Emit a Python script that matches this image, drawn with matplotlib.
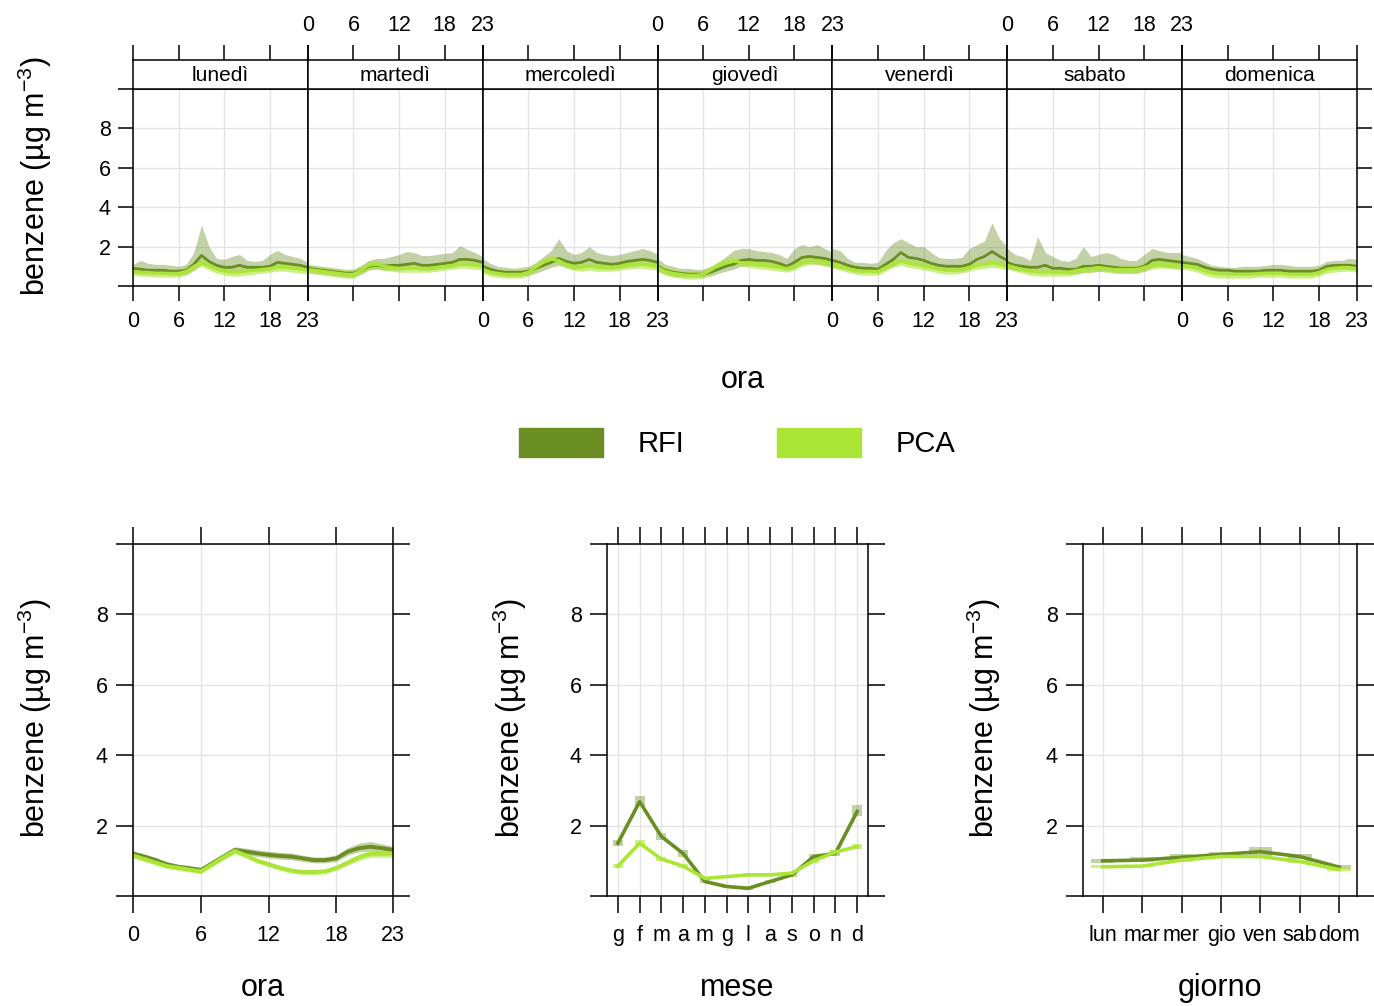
import numpy as np
import matplotlib.pyplot as plt
from matplotlib.patches import Rectangle

plt.rcParams['font.family'] = ['Liberation Sans', 'DejaVu Sans']
plt.rcParams['mathtext.fontset'] = 'custom'
plt.rcParams['mathtext.rm'] = 'Liberation Sans'
plt.rcParams['mathtext.it'] = 'Liberation Sans:italic'

# ---- dati ----
giorni = ['lunedì', 'martedì', 'mercoledì', 'giovedì', 'venerdì', 'sabato', 'domenica']
ore = list(range(24))
ore_ticks = [0, 6, 12, 18, 23]
mesi = ['g', 'f', 'm', 'a', 'm', 'g', 'l', 'a', 's', 'o', 'n', 'd']
giorni_brevi = ['lun', 'mar', 'mer', 'gio', 'ven', 'sab', 'dom']

# giorno x ora (7 x 24 valori, un giorno per riga)
rfi_mean = [
    0.90, 0.85, 0.80, 0.80, 0.80, 0.75, 0.75, 0.80, 1.10, 1.55, 1.25, 1.05, 0.95, 0.95, 1.05, 0.95, 0.95, 0.95, 1.00, 1.20, 1.15, 1.10, 1.05, 0.95,
    0.90, 0.85, 0.80, 0.75, 0.70, 0.65, 0.65, 0.80, 1.00, 1.05, 1.00, 1.05, 1.05, 1.10, 1.15, 1.05, 1.05, 1.10, 1.15, 1.20, 1.35, 1.35, 1.30, 1.20,
    1.00, 0.85, 0.75, 0.70, 0.70, 0.70, 0.75, 0.90, 1.05, 1.20, 1.40, 1.25, 1.15, 1.20, 1.35, 1.20, 1.15, 1.10, 1.15, 1.25, 1.30, 1.35, 1.30, 1.20,
    1.00, 0.80, 0.70, 0.65, 0.60, 0.60, 0.60, 0.70, 0.85, 1.00, 1.10, 1.30, 1.35, 1.30, 1.30, 1.25, 1.15, 1.00, 1.20, 1.45, 1.50, 1.45, 1.40, 1.30,
    1.30, 1.20, 1.05, 0.95, 0.90, 0.90, 0.85, 1.10, 1.35, 1.70, 1.45, 1.40, 1.30, 1.15, 1.05, 1.00, 1.00, 1.00, 1.10, 1.35, 1.50, 1.75, 1.50, 1.30,
    1.20, 1.05, 1.00, 0.95, 0.95, 1.05, 0.90, 0.90, 0.85, 0.85, 1.00, 1.00, 1.05, 1.00, 0.95, 0.90, 0.90, 0.90, 1.00, 1.30, 1.35, 1.30, 1.25, 1.20,
    1.20, 1.15, 1.10, 0.95, 0.85, 0.80, 0.80, 0.75, 0.75, 0.75, 0.75, 0.80, 0.80, 0.80, 0.75, 0.75, 0.75, 0.75, 0.80, 1.00, 1.05, 1.05, 1.05, 1.00,
]
rfi_lo = [
    0.65, 0.60, 0.60, 0.60, 0.60, 0.55, 0.55, 0.60, 0.80, 1.10, 0.95, 0.80, 0.75, 0.75, 0.80, 0.75, 0.75, 0.75, 0.80, 0.95, 0.90, 0.85, 0.80, 0.75,
    0.70, 0.65, 0.60, 0.55, 0.50, 0.45, 0.45, 0.60, 0.80, 0.85, 0.80, 0.80, 0.80, 0.85, 0.90, 0.80, 0.80, 0.85, 0.90, 0.95, 1.05, 1.05, 1.00, 0.95,
    0.75, 0.60, 0.55, 0.50, 0.50, 0.50, 0.55, 0.65, 0.80, 0.95, 1.05, 0.95, 0.85, 0.90, 1.00, 0.90, 0.85, 0.85, 0.90, 0.95, 1.00, 1.05, 1.00, 0.95,
    0.75, 0.60, 0.50, 0.45, 0.45, 0.45, 0.45, 0.50, 0.65, 0.75, 0.85, 1.00, 1.05, 1.00, 1.00, 0.95, 0.90, 0.80, 0.90, 1.10, 1.15, 1.10, 1.05, 1.00,
    0.95, 0.90, 0.80, 0.70, 0.70, 0.70, 0.65, 0.85, 1.00, 1.25, 1.10, 1.05, 1.00, 0.90, 0.80, 0.75, 0.75, 0.75, 0.85, 1.00, 1.10, 1.25, 1.10, 1.00,
    0.90, 0.80, 0.75, 0.70, 0.70, 0.75, 0.65, 0.65, 0.60, 0.60, 0.70, 0.70, 0.75, 0.75, 0.70, 0.65, 0.65, 0.65, 0.75, 0.95, 1.00, 0.95, 0.90, 0.90,
    0.95, 0.90, 0.85, 0.75, 0.65, 0.60, 0.60, 0.55, 0.55, 0.55, 0.55, 0.60, 0.60, 0.60, 0.55, 0.55, 0.55, 0.55, 0.60, 0.80, 0.85, 0.85, 0.85, 0.80,
]
rfi_hi = [
    1.10, 1.30, 1.15, 1.10, 1.10, 1.05, 1.00, 1.10, 1.70, 3.10, 2.00, 1.40, 1.35, 1.50, 1.60, 1.30, 1.25, 1.30, 1.60, 1.80, 1.60, 1.50, 1.40, 1.20,
    1.10, 1.05, 1.00, 0.95, 0.90, 0.85, 0.85, 1.05, 1.30, 1.40, 1.40, 1.50, 1.60, 1.75, 1.70, 1.55, 1.55, 1.60, 1.65, 1.70, 2.05, 1.85, 1.70, 1.50,
    1.40, 1.15, 1.00, 0.95, 0.90, 0.95, 1.00, 1.20, 1.50, 1.80, 2.40, 1.80, 1.60, 1.70, 2.00, 1.70, 1.60, 1.55, 1.60, 1.70, 1.80, 1.90, 1.80, 1.60,
    1.40, 1.10, 1.00, 0.90, 0.90, 0.85, 0.85, 1.00, 1.20, 1.50, 1.80, 1.90, 1.90, 1.80, 1.75, 1.70, 1.60, 1.40, 1.90, 2.10, 2.00, 2.10, 1.90, 1.70,
    1.90, 1.80, 1.40, 1.20, 1.20, 1.15, 1.20, 1.80, 2.20, 2.40, 2.20, 2.00, 2.00, 1.70, 1.45, 1.40, 1.40, 1.45, 1.90, 2.10, 2.30, 3.20, 2.40, 2.00,
    1.90, 1.60, 1.50, 1.30, 2.50, 1.70, 1.50, 1.30, 1.25, 1.40, 2.00, 1.50, 1.60, 1.70, 1.60, 1.40, 1.30, 1.30, 1.60, 1.90, 1.80, 1.70, 1.70, 1.70,
    1.60, 1.50, 1.40, 1.20, 1.05, 1.00, 0.95, 0.95, 1.00, 1.00, 1.00, 1.05, 1.10, 1.10, 1.05, 1.00, 1.00, 1.00, 1.05, 1.25, 1.30, 1.30, 1.40, 1.35,
]
pca_mean = [
    0.75, 0.70, 0.70, 0.65, 0.65, 0.65, 0.65, 0.75, 1.00, 1.20, 1.00, 0.85, 0.75, 0.70, 0.70, 0.75, 0.80, 0.85, 0.90, 0.95, 0.95, 0.90, 0.85, 0.80,
    0.85, 0.80, 0.75, 0.70, 0.65, 0.60, 0.60, 0.80, 1.05, 1.10, 1.00, 0.95, 0.90, 0.90, 0.90, 0.90, 0.90, 0.95, 1.00, 1.05, 1.10, 1.10, 1.05, 1.00,
    0.85, 0.70, 0.65, 0.60, 0.60, 0.60, 0.70, 0.95, 1.20, 1.35, 1.30, 1.10, 1.00, 0.95, 1.00, 0.95, 0.95, 0.95, 1.00, 1.05, 1.10, 1.10, 1.05, 1.00,
    0.95, 0.75, 0.65, 0.60, 0.55, 0.55, 0.60, 0.80, 1.05, 1.20, 1.25, 1.20, 1.15, 1.10, 1.05, 1.00, 0.95, 0.90, 1.00, 1.20, 1.30, 1.30, 1.20, 1.10,
    1.10, 1.00, 0.90, 0.80, 0.75, 0.75, 0.75, 0.95, 1.15, 1.25, 1.15, 1.10, 1.00, 0.95, 0.85, 0.80, 0.80, 0.85, 0.95, 1.05, 1.10, 1.15, 1.10, 1.00,
    1.05, 0.95, 0.85, 0.75, 0.70, 0.70, 0.70, 0.70, 0.70, 0.80, 0.85, 0.90, 0.95, 0.90, 0.85, 0.85, 0.85, 0.85, 0.95, 1.05, 1.10, 1.10, 1.05, 1.00,
    1.05, 1.00, 0.90, 0.75, 0.65, 0.60, 0.60, 0.60, 0.60, 0.60, 0.65, 0.65, 0.65, 0.65, 0.60, 0.60, 0.60, 0.60, 0.70, 0.85, 0.90, 0.95, 0.95, 0.90,
]
pca_lo = [
    0.55, 0.50, 0.50, 0.45, 0.45, 0.45, 0.45, 0.55, 0.80, 1.00, 0.80, 0.65, 0.55, 0.50, 0.50, 0.55, 0.60, 0.65, 0.70, 0.75, 0.75, 0.70, 0.65, 0.60,
    0.65, 0.60, 0.55, 0.50, 0.45, 0.40, 0.40, 0.60, 0.85, 0.90, 0.80, 0.75, 0.70, 0.70, 0.70, 0.70, 0.70, 0.75, 0.80, 0.85, 0.90, 0.90, 0.85, 0.80,
    0.65, 0.50, 0.45, 0.40, 0.40, 0.40, 0.50, 0.75, 1.00, 1.15, 1.10, 0.90, 0.80, 0.75, 0.80, 0.75, 0.75, 0.75, 0.80, 0.85, 0.90, 0.90, 0.85, 0.80,
    0.75, 0.55, 0.45, 0.40, 0.35, 0.35, 0.40, 0.60, 0.85, 1.00, 1.05, 1.00, 0.95, 0.90, 0.85, 0.80, 0.75, 0.70, 0.80, 1.00, 1.10, 1.10, 1.00, 0.90,
    0.90, 0.80, 0.70, 0.60, 0.55, 0.55, 0.55, 0.75, 0.95, 1.05, 0.95, 0.90, 0.80, 0.75, 0.65, 0.60, 0.60, 0.65, 0.75, 0.85, 0.90, 0.95, 0.90, 0.80,
    0.85, 0.75, 0.65, 0.55, 0.50, 0.50, 0.50, 0.50, 0.50, 0.60, 0.65, 0.70, 0.75, 0.70, 0.65, 0.65, 0.65, 0.65, 0.75, 0.85, 0.90, 0.90, 0.85, 0.80,
    0.85, 0.80, 0.70, 0.55, 0.45, 0.40, 0.40, 0.40, 0.40, 0.40, 0.45, 0.45, 0.45, 0.45, 0.40, 0.40, 0.40, 0.40, 0.50, 0.65, 0.70, 0.75, 0.75, 0.70,
]
pca_hi = [
    0.95, 0.90, 0.90, 0.85, 0.85, 0.85, 0.85, 0.95, 1.20, 1.40, 1.20, 1.05, 0.95, 0.90, 0.90, 0.95, 1.00, 1.05, 1.10, 1.15, 1.15, 1.10, 1.05, 1.00,
    1.05, 1.00, 0.95, 0.90, 0.85, 0.80, 0.80, 1.00, 1.25, 1.30, 1.20, 1.15, 1.10, 1.10, 1.10, 1.10, 1.10, 1.15, 1.20, 1.25, 1.30, 1.30, 1.25, 1.20,
    1.05, 0.90, 0.85, 0.80, 0.80, 0.80, 0.90, 1.15, 1.40, 1.55, 1.50, 1.30, 1.20, 1.15, 1.20, 1.15, 1.15, 1.15, 1.20, 1.25, 1.30, 1.30, 1.25, 1.20,
    1.15, 0.95, 0.85, 0.80, 0.75, 0.75, 0.80, 1.00, 1.25, 1.40, 1.45, 1.40, 1.35, 1.30, 1.25, 1.20, 1.15, 1.10, 1.20, 1.40, 1.50, 1.50, 1.40, 1.30,
    1.30, 1.20, 1.10, 1.00, 0.95, 0.95, 0.95, 1.15, 1.35, 1.45, 1.35, 1.30, 1.20, 1.15, 1.05, 1.00, 1.00, 1.05, 1.15, 1.25, 1.30, 1.35, 1.30, 1.20,
    1.25, 1.15, 1.05, 0.95, 0.90, 0.90, 0.90, 0.90, 0.90, 1.00, 1.05, 1.10, 1.15, 1.10, 1.05, 1.05, 1.05, 1.05, 1.15, 1.25, 1.30, 1.30, 1.25, 1.20,
    1.25, 1.20, 1.10, 0.95, 0.85, 0.80, 0.80, 0.80, 0.80, 0.80, 0.85, 0.85, 0.85, 0.85, 0.80, 0.80, 0.80, 0.80, 0.90, 1.05, 1.10, 1.15, 1.15, 1.10,
]

# profilo orario medio
rfi_ora = [1.20, 1.12, 1.02, 0.90, 0.83, 0.79, 0.74, 0.93, 1.12, 1.31, 1.26, 1.21, 1.17, 1.14, 1.12, 1.07, 1.02, 1.02, 1.07, 1.26, 1.36, 1.40, 1.36, 1.31]
rfi_ora_lo = [1.12, 1.04, 0.95, 0.83, 0.76, 0.72, 0.67, 0.86, 1.04, 1.23, 1.17, 1.12, 1.08, 1.05, 1.03, 0.98, 0.94, 0.94, 0.98, 1.16, 1.25, 1.28, 1.25, 1.21]
rfi_ora_hi = [1.29, 1.20, 1.09, 0.97, 0.90, 0.86, 0.81, 1.00, 1.20, 1.40, 1.36, 1.31, 1.27, 1.24, 1.22, 1.16, 1.11, 1.11, 1.17, 1.37, 1.50, 1.55, 1.48, 1.42]
pca_ora = [1.15, 1.05, 0.95, 0.85, 0.80, 0.75, 0.70, 0.90, 1.10, 1.28, 1.15, 1.00, 0.90, 0.80, 0.72, 0.68, 0.68, 0.70, 0.80, 0.95, 1.10, 1.20, 1.20, 1.20]
pca_ora_lo = [1.08, 0.98, 0.88, 0.78, 0.73, 0.68, 0.63, 0.83, 1.03, 1.20, 1.08, 0.93, 0.83, 0.73, 0.65, 0.61, 0.61, 0.63, 0.73, 0.87, 1.01, 1.10, 1.10, 1.10]
pca_ora_hi = [1.22, 1.12, 1.02, 0.92, 0.87, 0.82, 0.77, 0.97, 1.17, 1.36, 1.22, 1.07, 0.97, 0.87, 0.79, 0.75, 0.75, 0.77, 0.87, 1.03, 1.19, 1.30, 1.30, 1.30]

# profilo mensile
rfi_mese = [1.50, 2.68, 1.69, 1.21, 0.41, 0.27, 0.22, 0.41, 0.60, 1.12, 1.21, 2.40]
rfi_mese_lo = [1.42, 2.55, 1.60, 1.12, 0.36, 0.23, 0.18, 0.37, 0.55, 1.04, 1.13, 2.28]
rfi_mese_hi = [1.60, 2.85, 1.80, 1.32, 0.47, 0.31, 0.26, 0.46, 0.66, 1.20, 1.30, 2.58]
pca_mese = [0.85, 1.50, 1.05, 0.85, 0.50, 0.55, 0.60, 0.60, 0.65, 1.00, 1.25, 1.40]
pca_mese_lo = [0.80, 1.42, 1.00, 0.80, 0.46, 0.51, 0.56, 0.56, 0.61, 0.95, 1.19, 1.33]
pca_mese_hi = [0.90, 1.58, 1.10, 0.90, 0.54, 0.59, 0.64, 0.64, 0.69, 1.05, 1.31, 1.47]

# profilo settimanale
rfi_giorno = [1.00, 1.02, 1.10, 1.18, 1.26, 1.12, 0.82]
rfi_giorno_lo = [0.95, 0.96, 1.04, 1.12, 1.15, 1.05, 0.76]
rfi_giorno_hi = [1.06, 1.10, 1.18, 1.26, 1.40, 1.20, 0.88]
pca_giorno = [0.83, 0.85, 1.02, 1.12, 1.12, 0.98, 0.75]
pca_giorno_lo = [0.79, 0.81, 0.98, 1.08, 1.07, 0.93, 0.71]
pca_giorno_hi = [0.87, 0.89, 1.06, 1.16, 1.17, 1.03, 0.79]

RFI = '#6B8E23'
PCA = '#ABE636'
GRID = '#E4E4E4'
ylab = 'benzene (µg m$^{-3}$)'
y_ticks = [0, 2, 4, 6, 8, 10]
y_labels = ['', '2', '4', '6', '8', '']
TS = 15.5   # tick labels
LS = 22     # titoli assi

W, H = 1374, 1006
fig = plt.figure(figsize=(W / 100, H / 100), dpi=100)


def px(x0, y0, x1, y1):
    return [x0 / W, 1 - y1 / H, (x1 - x0) / W, (y1 - y0) / H]


def stile(ax):
    for s in ax.spines.values():
        s.set_linewidth(1.1)
    ax.grid(color=GRID, lw=1)
    ax.set_axisbelow(True)


# ---- pannello superiore: giorno x ora ----
bordi = np.linspace(133, 1357, 8)
for i, g in enumerate(giorni):
    sl = slice(24 * i, 24 * i + 24)
    ax = fig.add_axes(px(bordi[i], 89, bordi[i + 1], 286))
    ax.fill_between(ore, rfi_lo[sl], rfi_hi[sl], color=RFI, alpha=0.4, lw=0)
    ax.plot(ore, rfi_mean[sl], color=RFI, lw=2.0)
    ax.fill_between(ore, pca_lo[sl], pca_hi[sl], color=PCA, alpha=0.6, lw=0)
    ax.plot(ore, pca_mean[sl], color=PCA, lw=2.0)
    ax.set_xlim(0, 23)
    ax.set_ylim(0, 10)
    ax.set_xticks(ore_ticks)
    ax.set_yticks(y_ticks)
    ax.set_yticklabels(y_labels)
    stile(ax)
    ax.tick_params(axis='x', direction='out', length=11, width=1.1, labelsize=TS,
                   labelbottom=(i % 2 == 0), pad=7)
    ax.tick_params(axis='y', direction='out', length=11, width=1.1, labelsize=TS,
                   left=(i == 0), labelleft=(i == 0), right=(i == 6), labelright=False, pad=5)

    st = fig.add_axes(px(bordi[i], 60, bordi[i + 1], 89))
    st.set_xlim(0, 23)
    st.set_xticks(ore_ticks)
    st.set_yticks([])
    st.xaxis.tick_top()
    st.tick_params(axis='x', direction='out', length=11, width=1.1, labelsize=TS,
                   labeltop=(i % 2 == 1), pad=6)
    for s in st.spines.values():
        s.set_linewidth(1.1)
    st.text(0.5, 0.45, g, transform=st.transAxes, ha='center', va='center', fontsize=15)

fig.text(35 / W, 1 - 176 / H, ylab, rotation=90, ha='center', va='center', fontsize=LS)
fig.text(743 / W, 1 - 380 / H, 'ora', ha='center', va='center', fontsize=LS)

# legenda
for x0, col, nome in [(519, RFI, 'RFI'), (777, PCA, 'PCA')]:
    fig.patches.append(Rectangle((x0 / W, 1 - 457 / H), 84 / W, 29 / H,
                                 transform=fig.transFigure, color=col))
    fig.text((x0 + 119) / W, 1 - 444 / H, nome, ha='left', va='center', fontsize=21)

# ---- pannelli inferiori ----
# ora
ax1 = fig.add_axes(px(133, 544, 393, 896))
ax1.fill_between(ore, rfi_ora_lo, rfi_ora_hi, color=RFI, alpha=0.4, lw=0)
ax1.plot(ore, rfi_ora, color=RFI, lw=2.8)
ax1.fill_between(ore, pca_ora_lo, pca_ora_hi, color=PCA, alpha=0.6, lw=0)
ax1.plot(ore, pca_ora, color=PCA, lw=2.8)
ax1.set_xlim(0, 23)
ax1.set_xticks(ore_ticks)

# mese
ax2 = fig.add_axes(px(607, 544, 868, 896))
xm = np.arange(1, 13)
ax2.bar(xm, np.subtract(rfi_mese_hi, rfi_mese_lo), bottom=rfi_mese_lo, width=0.45,
        color=RFI, alpha=0.4, lw=0)
ax2.plot(xm, rfi_mese, color=RFI, lw=2.6)
ax2.bar(xm, np.subtract(pca_mese_hi, pca_mese_lo), bottom=pca_mese_lo, width=0.45,
        color=PCA, alpha=0.6, lw=0)
ax2.plot(xm, pca_mese, color=PCA, lw=2.6)
ax2.set_xlim(0.5, 12.5)
ax2.set_xticks(xm)
ax2.set_xticklabels(mesi)

# giorno
ax3 = fig.add_axes(px(1083, 544, 1357, 896))
xg = np.arange(1, 8)
ax3.bar(xg, np.subtract(rfi_giorno_hi, rfi_giorno_lo), bottom=rfi_giorno_lo, width=0.6,
        color=RFI, alpha=0.4, lw=0)
ax3.plot(xg, rfi_giorno, color=RFI, lw=2.6)
ax3.bar(xg, np.subtract(pca_giorno_hi, pca_giorno_lo), bottom=pca_giorno_lo, width=0.6,
        color=PCA, alpha=0.6, lw=0)
ax3.plot(xg, pca_giorno, color=PCA, lw=2.6)
ax3.set_xlim(0.5, 7.45)
ax3.set_xticks(xg)
ax3.set_xticklabels(giorni_brevi)

for ax, xl, xc in [(ax1, 'ora', 35), (ax2, 'mese', 510), (ax3, 'giorno', 984)]:
    ax.set_ylim(0, 10)
    ax.set_yticks(y_ticks)
    ax.set_yticklabels(y_labels)
    stile(ax)
    ax.tick_params(axis='x', direction='out', length=12, width=1.1, labelsize=TS,
                   top=True, pad=9)
    ax.tick_params(axis='y', direction='out', length=12, width=1.1, labelsize=TS,
                   right=True, pad=6)
    fig.text(xc / W, 1 - 718 / H, ylab, rotation=90, ha='center', va='center', fontsize=LS)
    bb = ax.get_position()
    fig.text(bb.x0 + bb.width / 2, 1 - 988 / H, xl, ha='center', va='center', fontsize=LS)

fig.savefig('out.png', dpi=100, facecolor='white')
